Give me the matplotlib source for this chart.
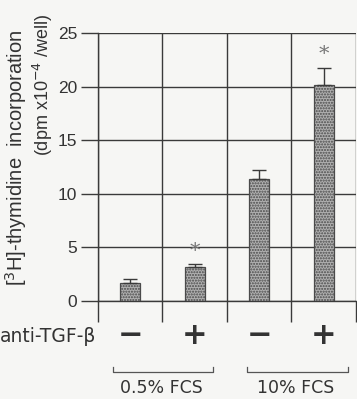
import matplotlib
matplotlib.use("Agg")
import matplotlib.pyplot as plt
from matplotlib.ticker import FixedLocator

plt.rcParams['font.family'] = ['Liberation Sans', 'DejaVu Sans']
plt.rcParams['hatch.color'] = '#7a7a7a'

conditions = ["0.5% FCS -", "0.5% FCS +", "10% FCS -", "10% FCS +"]
values = [1.7, 3.2, 11.4, 20.2]
errors = [0.4, 0.25, 0.85, 1.6]
significant = [False, True, False, True]
signs = ["\u2212", "+", "\u2212", "+"]
groups = ["0.5% FCS", "10% FCS"]
yticks = [0, 5, 10, 15, 20, 25]

line_c = "#3a3a3a"
txt_c = "#333333"
bg = "#f6f6f4"

fig = plt.figure(figsize=(3.57, 3.99), dpi=100, facecolor=bg)
ax = fig.add_axes([0.2745, 0.2456, 0.7225, 0.6709], facecolor=bg)

x = [i + 0.5 for i in range(len(values))]
ax.bar(x, values, width=0.31, color="#b0b0b0", edgecolor="#4a4a4a",
       linewidth=0.9, hatch="......", zorder=3)
ax.errorbar(x, values, yerr=[[0] * len(errors), errors], fmt="none",
            ecolor=line_c, elinewidth=1.0, capsize=5, capthick=1.0, zorder=4)
for xi, v, e, s in zip(x, values, errors, significant):
    if s:
        ax.text(xi, v + e + 0.3, "*", ha="center", va="bottom", fontsize=15,
                color="#777777", family="DejaVu Serif")

ax.set_xlim(0, 4)
ax.set_ylim(0, 25)
ax.set_yticks(yticks)
ax.set_yticklabels([str(t) for t in yticks], fontsize=12.5, color=txt_c)
ax.xaxis.set_major_locator(FixedLocator([0, 1, 2, 3, 4]))
ax.set_xticklabels([])
ax.tick_params(axis="x", length=15, width=1.0, color=line_c, direction="out")
ax.tick_params(axis="y", length=12, width=1.0, color=line_c, direction="out", pad=3)
ax.grid(True, color=line_c, linewidth=1.0, zorder=0)
ax.set_axisbelow(True)
for sp in ["top", "right"]:
    ax.spines[sp].set_visible(False)
for sp in ["left", "bottom"]:
    ax.spines[sp].set_color(line_c)
    ax.spines[sp].set_linewidth(1.0)

fig.text(16 / 357, 1 - 158 / 399, "[$^{3}$H]-thymidine  incorporation", rotation=90,
         ha="center", va="center", fontsize=14.5, color=txt_c)
fig.text(43 / 357, 1 - 85 / 399, "(dpm x10$^{-4}$ /well)", rotation=90,
         ha="center", va="center", fontsize=13, color=txt_c)

# treatment row
fig.text(0.0, 1 - 337 / 399, "anti-TGF-\u03b2", ha="left", va="center",
         fontsize=13.5, color=txt_c, family="DejaVu Sans")
for xi, s in zip(x, signs):
    xf, _ = fig.transFigure.inverted().transform(ax.transData.transform((xi, 0)))
    fig.text(xf, 1 - 336 / 399, s, ha="center", va="center", fontsize=22,
             fontweight="bold", color=txt_c, family="DejaVu Sans")

# brackets
ytop = 1 - 367 / 399
ybot = 1 - 372 / 399
br = [(113 / 357, 213 / 357), (247 / 357, 348 / 357)]
for (x0, x1), g in zip(br, groups):
    fig.add_artist(plt.Line2D([x0, x0, x1, x1], [ytop, ybot, ybot, ytop],
                              color="#555555", linewidth=0.9,
                              transform=fig.transFigure))
    fig.text((x0 + x1) / 2 - 2 / 357, 1 - 397 / 399, g, ha="center", va="bottom",
             fontsize=12.5, color=txt_c, family="DejaVu Sans")

fig.savefig("out.png", dpi=100, facecolor=bg)
